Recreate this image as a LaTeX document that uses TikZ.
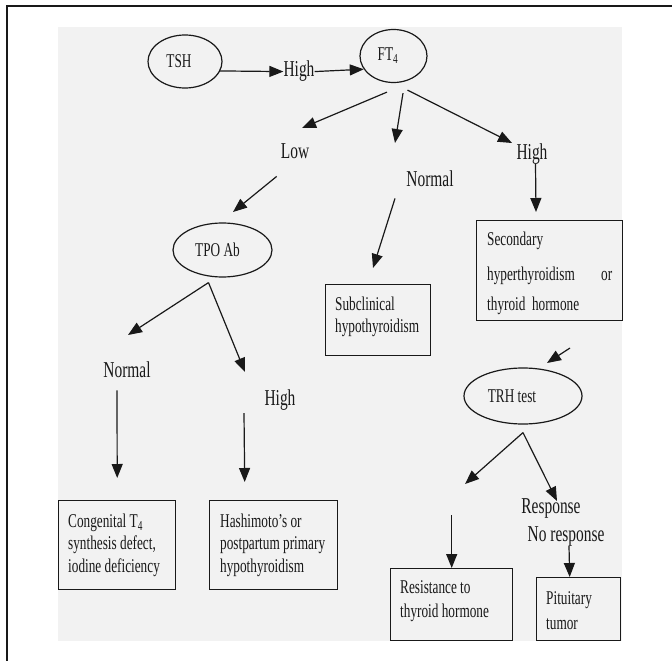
\documentclass[tikz,border=0pt]{standalone}
\usepackage{fontspec}
\setmainfont{Liberation Serif}[FakeStretch=0.68]
\usetikzlibrary{arrows.meta, shapes.geometric}
\definecolor{paper}{RGB}{242,242,242}
\definecolor{ink}{RGB}{25,25,25}
\tikzset{
    x=1pt, y=-1pt,
    every node/.style={inner sep=0pt, text=ink},
    oval/.style={ellipse, draw=ink, line width=1.2pt, font=\fontsize{19.5}{22}\selectfont},
    lbl/.style={anchor=base, font=\fontsize{22.7}{26}\selectfont},
    result/.style={draw=ink, line width=1.4pt, anchor=north west},
    inbox/.style={anchor=west, align=left, font=\fontsize{19.5}{#1}\selectfont},
    arr/.style={-{Triangle[length=14pt,width=11pt]}, line width=1.2pt, draw=ink},
}

\begin{document}
\begin{tikzpicture}
    \useasboundingbox (0,0) rectangle (672,661);
    \fill[paper] (58,27) rectangle (622,641);
    \draw[ink, line width=1.6pt] (7,661) -- (7,6) -- (672,6);

    % tests
    \node[oval, minimum width=74pt, minimum height=53pt] (tsh) at (185,61.5) {TSH\hspace*{12pt}};
    \node[oval, minimum width=67pt, minimum height=53pt] (ft4) at (393.5,56) {FT\textsubscript{4}\hspace*{11pt}};
    \node[oval, minimum width=99pt, minimum height=54pt] (tpo) at (222.5,250) {TPO Ab\hspace*{10pt}};
    \node[oval, minimum width=118pt, minimum height=56pt] (trh) at (523,396) {TRH test\hspace*{22pt}};

    % levels
    \node[lbl] (tshhigh) at (299,77) {High};
    \node[lbl] (low) at (295,158) {Low};
    \node[lbl] (ftnormal) at (430,186) {Normal};
    \node[lbl] (fthigh) at (532,159) {High};
    \node[lbl] (tponormal) at (127,377) {Normal};
    \node[lbl] (tpohigh) at (280,405) {High};
    \node[lbl] (resp) at (551,513) {Response};
    \node[lbl] (noresp) at (566,541) {No response};

    % diagnoses
    \node[result, minimum width=105pt, minimum height=71pt] (subcl) at (325,284) {};
    \node[inbox=22] (subcltext) at ([xshift=10pt,yshift=3.5pt]subcl.west) {Subclinical\\hypothyroidism};
    \node[result, minimum width=146pt, minimum height=100pt] (second) at (476,220) {};
    \node[inbox=30, text width=125pt] (secondtext) at ([xshift=11pt,yshift=-2.5pt]second.west)
        {Secondary\\[5pt]hyperthyroidism\hfill or\\thyroid hormone};
    \node[result, minimum width=117pt, minimum height=89pt] (cong) at (58,500) {};
    \node[inbox=22.5] (congtext) at ([xshift=10pt]cong.west) {Congenital T\textsubscript{4}\\synthesis defect,\\iodine deficiency};
    \node[result, minimum width=128pt, minimum height=89pt] (hash) at (209,500) {};
    \node[inbox=22.5] (hashtext) at ([xshift=11pt]hash.west) {Hashimoto's or\\postpartum primary\\hypothyroidism};
    \node[result, minimum width=122pt, minimum height=72pt] (resist) at (390,568) {};
    \node[inbox=24] (resisttext) at ([xshift=10pt,yshift=4pt]resist.west) {Resistance to\\thyroid hormone};
    \node[result, minimum width=84pt, minimum height=63pt] (pit) at (536,577) {};
    \node[inbox=25] (pittext) at ([xshift=10pt,yshift=-1pt]pit.west) {Pituitary\\tumor};

    % free arrow ends
    \coordinate (lowtip) at (302,128);
    \coordinate (normtip) at (395,143);
    \coordinate (hightip) at (512,143);
    \coordinate (tpotip) at (233,212);
    \coordinate (sectip) at (536,212);
    \coordinate (subtip) at (373,268);
    \coordinate (tponormtip) at (128,335);
    \coordinate (tpohightip) at (245,372);
    \coordinate (trhfrom) at (570,348);
    \coordinate (trhtip) at (547,363);
    \coordinate (trhlefttip) at (465,484);
    \coordinate (trhrighttip) at (557,501);
    \coordinate (tpoout) at ([shift={(-14pt,-5pt)}]tpo.south);
    \coordinate (trhout) at ([yshift=-8pt]trh.south);

    \draw[arr] (tsh.-15) -- (tshhigh.west);
    \draw[arr] (tshhigh.east) -- (ft4.204);
    \draw[arr] ([shift={(-6.5pt,-9pt)}]ft4.south) -- (lowtip);
    \draw[arr] ([shift={(9.5pt,-10pt)}]ft4.south) -- (normtip);
    \draw[arr] ([shift={(14pt,-7pt)}]ft4.south) -- (hightip);
    \draw[arr] ([shift={(-4pt,-18pt)}]low.south west) -- (tpotip);
    \draw[arr] ([xshift=3.5pt]fthigh.south) -- (sectip);
    \draw[arr] ([shift={(-35pt,-12pt)}]ftnormal.south) -- (subtip);
    \draw[arr] (tpoout) -- (tponormtip);
    \draw[arr] (tpoout) -- (tpohightip);
    \draw[arr] ([shift={(-10pt,-13pt)}]tponormal.south) -- ([yshift=22pt]cong.north);
    \draw[arr] ([shift={(-36pt,-3pt)}]tpohigh.south) -- ([shift={(-29pt,18pt)}]hash.north);
    \draw[arr] (trhfrom) -- (trhtip);
    \draw[arr] (trhout) -- (trhlefttip);
    \draw[arr] (trhout) -- (trhrighttip);
    \draw[arr] ([yshift=53pt]resist.north) -- (resist.north);
    \draw[arr] ([xshift=3pt]noresp.south) -- ([xshift=-9pt]pit.north);
\end{tikzpicture}
\end{document}
